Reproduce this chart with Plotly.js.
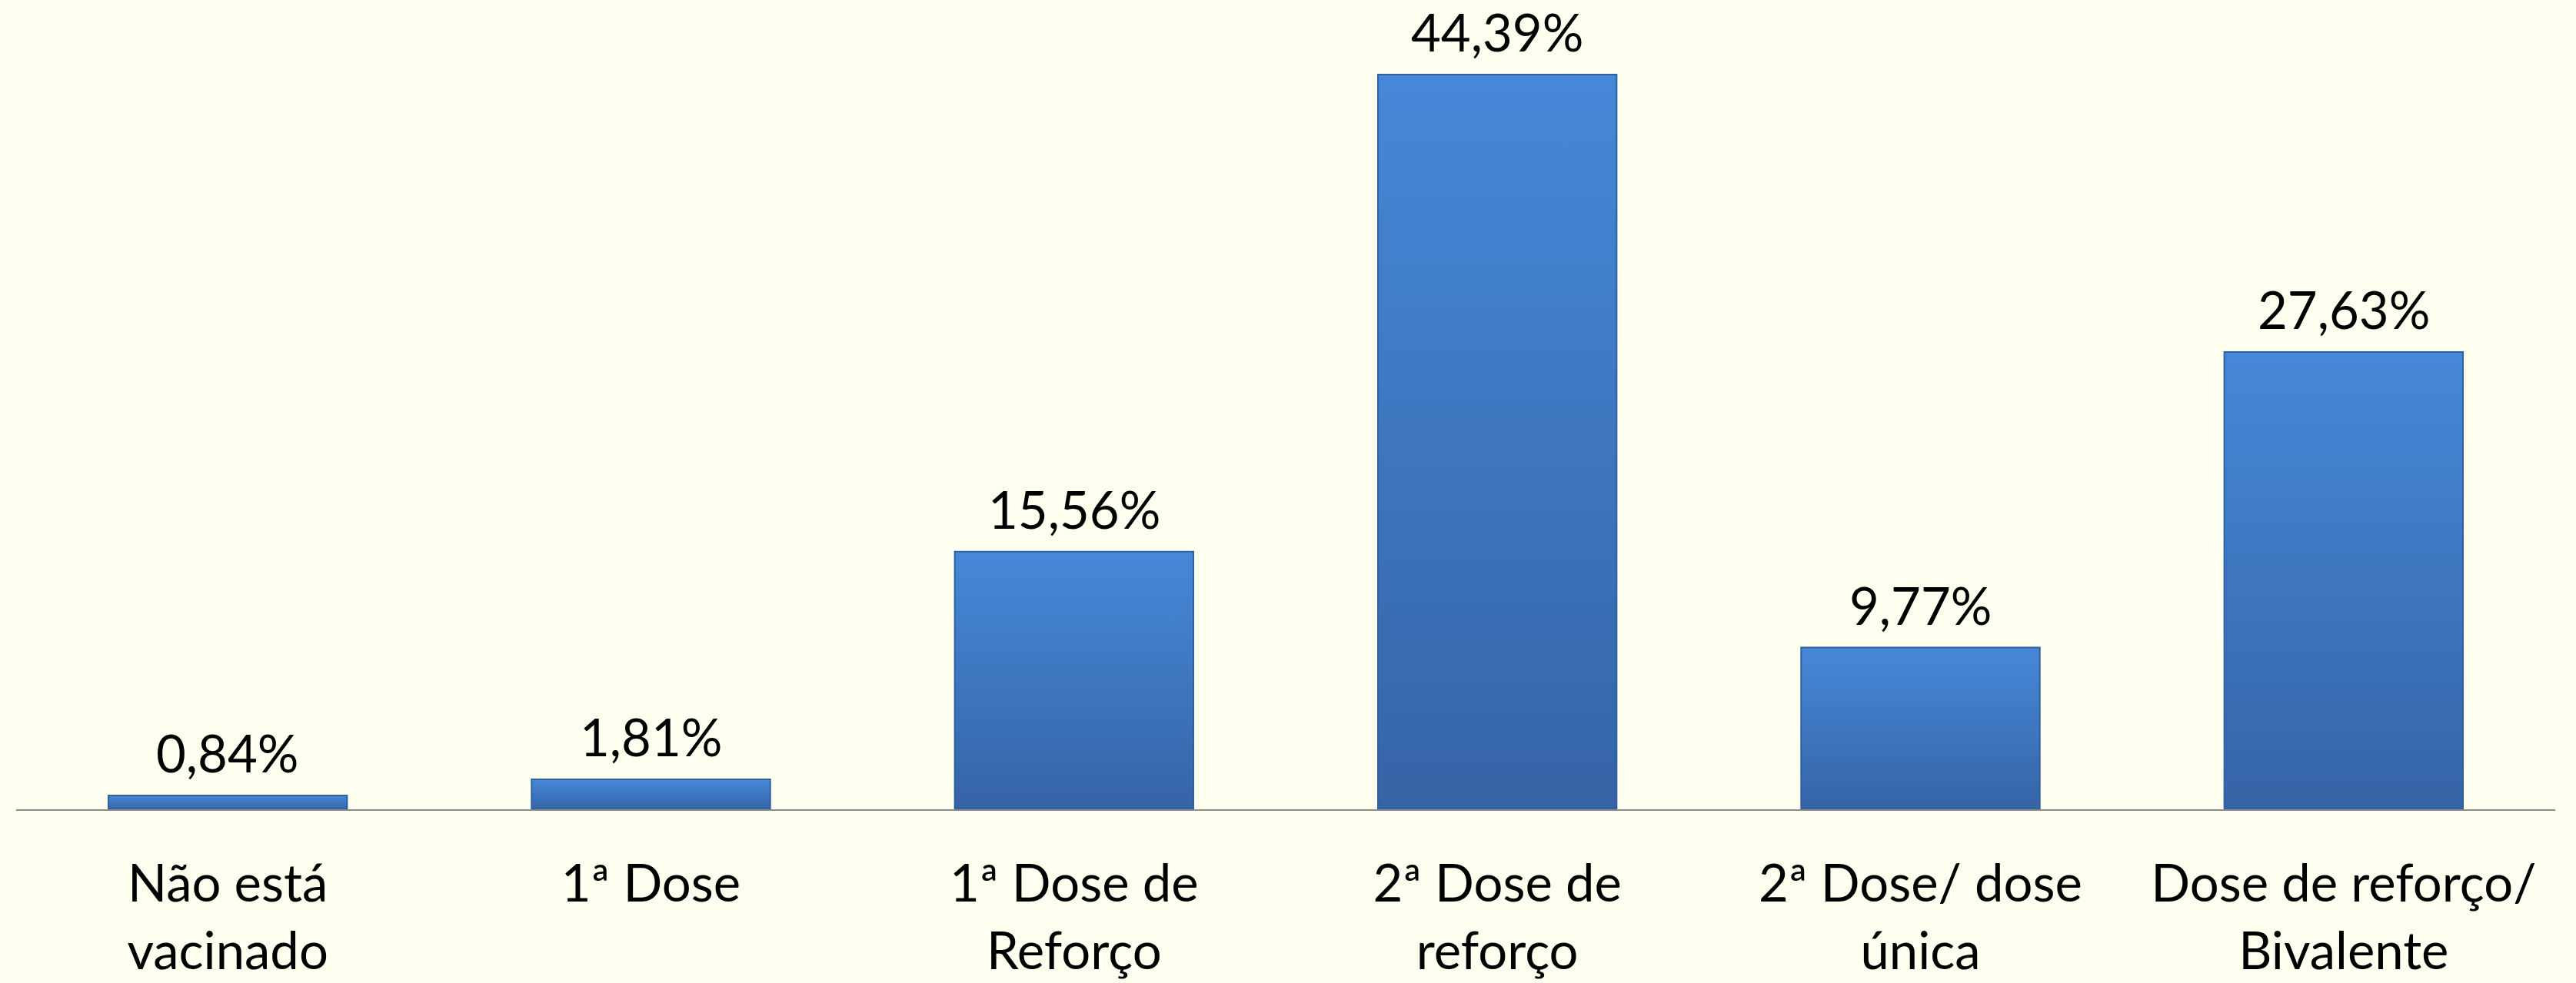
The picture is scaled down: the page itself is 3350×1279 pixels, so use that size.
<!DOCTYPE html>
<html>
<head>
<meta charset="utf-8">
<script src="https://cdn.plot.ly/plotly-3.0.1.min.js"></script>
<style>
html,body{margin:0;padding:0;background:#FFFFF0;}
#chart{width:3350px;height:1279px;}
</style>
</head>
<body>
<div id="chart"></div>
<script>
const categories = [
  "Não está<br>vacinado",
  "1ª Dose",
  "1ª Dose de<br>Reforço",
  "2ª Dose de<br>reforço",
  "2ª Dose/ dose<br>única",
  "Dose de reforço/<br>Bivalente"
];
const values = [0.84, 1.81, 15.56, 44.39, 9.77, 27.63];
const valueLabels = values.map(v => v.toFixed(2).replace('.', ',') + '%');

const FONT = 'Lato, "Open Sans", sans-serif';

const trace = {
  type: 'bar',
  x: categories,
  y: values,
  marker: {color: '#3F7BC6', line: {color: '#3160A0', width: 2}},
  hoverinfo: 'none'
};

const annotations = categories.map((c, i) => ({
  x: c, y: values[i], xref: 'x', yref: 'y',
  text: valueLabels[i], showarrow: false,
  yanchor: 'bottom', yshift: 14,
  font: {family: FONT, size: 67, color: '#000000'}
}));

const layout = {
  width: 3350, height: 1279,
  paper_bgcolor: '#FFFFF0', plot_bgcolor: '#FFFFF0',
  margin: {l: 21, r: 27, t: 0, b: 226},
  bargap: 0.436,
  showlegend: false,
  xaxis: {
    showline: true, linecolor: '#8C8C8C', linewidth: 2,
    ticks: '', showgrid: false, zeroline: false,
    tickfont: {family: FONT, size: 67, color: '#000000'},
    ticklabelstandoff: 38
  },
  yaxis: {
    visible: false, range: [0, 48.89], showgrid: false, zeroline: false
  },
  annotations: annotations
};

Plotly.newPlot('chart', [trace], layout, {staticPlot: true}).then(gd => {
  const svg = gd.querySelector('svg.main-svg');
  const ns = 'http://www.w3.org/2000/svg';
  let defs = svg.querySelector('defs');
  if (!defs) { defs = document.createElementNS(ns, 'defs'); svg.insertBefore(defs, svg.firstChild); }
  const g = document.createElementNS(ns, 'linearGradient');
  g.setAttribute('id', 'barGrad');
  g.setAttribute('x1', '0'); g.setAttribute('y1', '0');
  g.setAttribute('x2', '0'); g.setAttribute('y2', '1');
  [['0', '#4688D8'], ['1', '#3564A6']].forEach(([o, c]) => {
    const s = document.createElementNS(ns, 'stop');
    s.setAttribute('offset', o); s.setAttribute('stop-color', c);
    g.appendChild(s);
  });
  defs.appendChild(g);
  gd.querySelectorAll('.bars .point path').forEach(p => { p.style.fill = 'url(#barGrad)'; });
});
</script>
</body>
</html>
